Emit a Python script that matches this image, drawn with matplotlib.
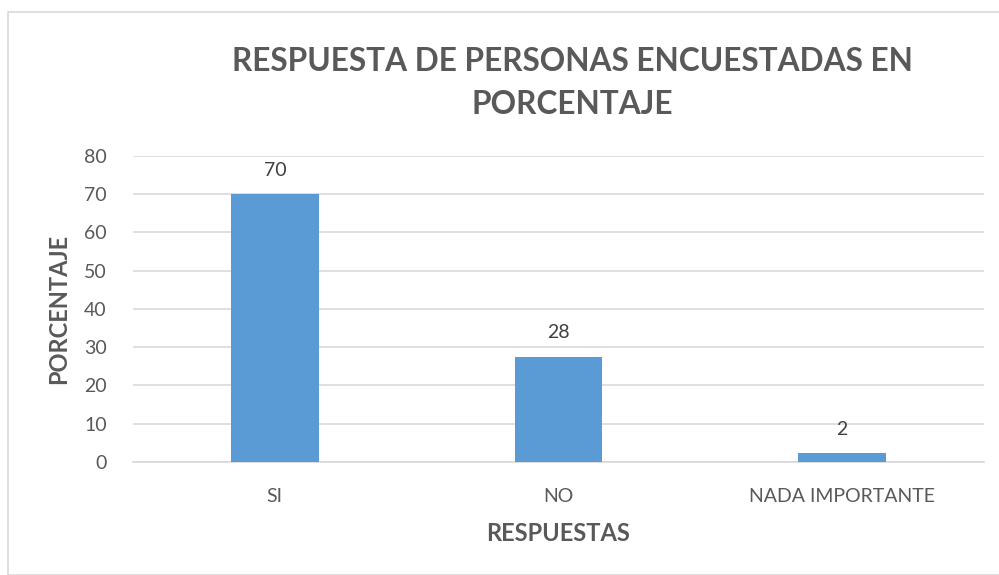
import matplotlib
matplotlib.use("Agg")
import matplotlib.pyplot as plt
from matplotlib.patches import Rectangle

categories = ["SI", "NO", "NADA IMPORTANTE"]
values = [70, 27.5, 2.4]
value_labels = ["70", "28", "2"]
y_ticks = [0, 10, 20, 30, 40, 50, 60, 70, 80]

plt.rcParams["font.family"] = ["Lato", "DejaVu Sans"]
text_color = "#595959"
bar_color = "#5b9bd5"
grid_color = "#d9d9d9"

W, H = 999, 575
fig = plt.figure(figsize=(W / 100, H / 100), dpi=100)
# chart border
fig.patches.append(Rectangle((8 / W, 0), 1.2, 1 - 12 / H, transform=fig.transFigure,
                             fill=False, edgecolor="#d9d9d9", linewidth=1.2))

ax = fig.add_axes([133 / W, 1 - 462 / H, (984 - 133) / W, (462 - 155.7) / H])
x = range(len(categories))
ax.bar(x, values, width=0.31, color=bar_color, zorder=3)
ax.set_xlim(-0.5, len(categories) - 0.5)
ax.set_ylim(0, 80)
ax.set_yticks(y_ticks)
ax.set_xticks(list(x))
ax.set_xticklabels(categories)
ax.yaxis.grid(True, color=grid_color, linewidth=1.2, zorder=0)
for s in ["top", "right", "left"]:
    ax.spines[s].set_visible(False)
ax.spines["bottom"].set_color(grid_color)
ax.spines["bottom"].set_linewidth(1.2)
ax.tick_params(axis="both", length=0, colors=text_color, labelsize=14)
ax.tick_params(axis="y", pad=19)
ax.tick_params(axis="x", pad=19)

for xi, v, lab in zip(x, values, value_labels):
    ax.annotate(lab, (xi, v), xytext=(0, 11), textcoords="offset points",
                ha="center", va="bottom", color="#404040", fontsize=14)

ax.set_xlabel("RESPUESTAS", fontsize=17, fontweight="bold", color=text_color, labelpad=12)
ax.set_ylabel("PORCENTAJE", fontsize=17, fontweight="bold", color=text_color, labelpad=10)

fig.text(572 / W, 1 - 83 / H, "RESPUESTA DE PERSONAS ENCUESTADAS EN\nPORCENTAJE",
         ha="center", va="center", fontsize=22.8, fontweight="bold", color=text_color,
         linespacing=1.6)

fig.savefig("out.png", dpi=100)
